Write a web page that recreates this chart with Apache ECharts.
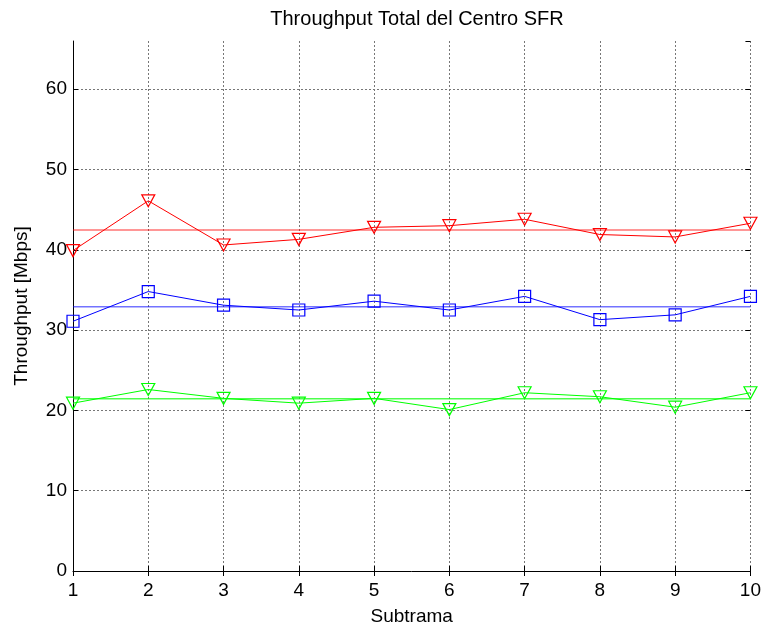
<!DOCTYPE html>
<html>
<head>
<meta charset="utf-8">
<script src="https://cdn.jsdelivr.net/npm/echarts@6/dist/echarts.min.js"></script>
<style>html,body{margin:0;padding:0;background:#fff;}#c{width:764px;height:631px;}</style>
</head>
<body>
<div id="c"></div>
<script>
var subframes = [1, 2, 3, 4, 5, 6, 7, 8, 9, 10];
var redValues = [39.9, 46.1, 40.6, 41.3, 42.8, 43.0, 43.8, 41.9, 41.6, 43.3];
var blueValues = [31.1, 34.8, 33.1, 32.5, 33.6, 32.5, 34.2, 31.3, 31.9, 34.2];
var greenValues = [20.9, 22.6, 21.5, 20.9, 21.5, 20.1, 22.2, 21.7, 20.4, 22.2];
var redMean = 42.45;
var blueMean = 32.9;
var greenMean = 21.45;
var yTicks = [0, 10, 20, 30, 40, 50, 60];

var FONT = "'Liberation Sans', Arial, sans-serif";
var triDown = 'path://M0,0 L12,0 L6,11 Z';

function pairs(vals) { return subframes.map(function (x, i) { return [x, vals[i]]; }); }
function meanLine(m) { return [[subframes[0], m], [subframes[subframes.length - 1], m]]; }

function dataSeries(vals, color, symbol, size) {
  return {
    type: 'line', data: pairs(vals), symbol: symbol, symbolSize: size,
    showAllSymbol: true, z: 3,
    lineStyle: { color: color, width: 1 },
    itemStyle: { color: 'rgba(0,0,0,0)', borderColor: color, borderWidth: 1.2 },
    emphasis: { disabled: true }, animation: false
  };
}
function meanSeries(m, color) {
  return {
    type: 'line', data: meanLine(m), symbol: 'none', z: 2,
    lineStyle: { color: color, width: 1.5 },
    emphasis: { disabled: true }, animation: false
  };
}

var chart = echarts.init(document.getElementById('c'), null, { renderer: 'canvas' });
chart.setOption({
  backgroundColor: '#ffffff',
  animation: false,
  title: {
    text: 'Throughput Total del Centro SFR', left: 412, top: 4, textAlign: 'center',
    textStyle: { fontFamily: FONT, fontSize: 20, fontWeight: 'normal', color: '#000' }
  },
  grid: { left: 73, right: 12, top: 41, bottom: 56, containLabel: false },
  xAxis: [{
    type: 'value', min: 1, max: 10, interval: 1,
    name: 'Subtrama', nameLocation: 'middle', nameGap: 36,
    nameTextStyle: { fontFamily: FONT, fontSize: 19, color: '#000' },
    axisLine: { show: true, lineStyle: { color: '#000', width: 1 } },
    axisTick: { show: true, inside: true, length: 5, lineStyle: { color: '#000' } },
    axisLabel: { fontFamily: FONT, fontSize: 19, color: '#000', margin: 10 },
    splitLine: { show: true, showMinLine: false, lineStyle: { color: '#777', type: [2, 2], width: 1 } }
  }, {
    type: 'value', min: 1, max: 10, interval: 1, position: 'top',
    axisLine: { show: false }, axisLabel: { show: false }, splitLine: { show: false },
    axisTick: { show: true, inside: true, length: 5, lineStyle: { color: '#000' } }
  }],
  yAxis: [{
    type: 'value', min: 0, max: 66, interval: 10,
    name: 'Throughput [Mbps]', nameLocation: 'middle', nameGap: 42,
    nameTextStyle: { fontFamily: FONT, fontSize: 19, color: '#000' },
    axisLine: { show: true, lineStyle: { color: '#000', width: 1 } },
    axisTick: { show: true, inside: true, length: 5, lineStyle: { color: '#000' } },
    axisLabel: {
      fontFamily: FONT, fontSize: 19, color: '#000', margin: 6, showMaxLabel: false,
      formatter: function (v) { return yTicks.indexOf(v) >= 0 ? String(v) : ''; }
    },
    splitLine: { show: true, showMinLine: false, showMaxLine: false, lineStyle: { color: '#777', type: [2, 2], width: 1 } }
  }, {
    type: 'value', min: 0, max: 66, interval: 10, position: 'right',
    axisLine: { show: false }, axisLabel: { show: false }, splitLine: { show: false },
    axisTick: { show: true, inside: true, length: 5, lineStyle: { color: '#000' } }
  }],
  series: [
    meanSeries(redMean, 'rgba(255,0,0,0.55)'),
    meanSeries(blueMean, 'rgba(0,0,255,0.55)'),
    meanSeries(greenMean, 'rgba(0,255,0,0.7)'),
    dataSeries(redValues, '#ff0000', triDown, [13, 12]),
    dataSeries(blueValues, '#0000ff', 'rect', 12),
    dataSeries(greenValues, '#00ff00', triDown, [13, 12])
  ]
});
</script>
</body>
</html>
